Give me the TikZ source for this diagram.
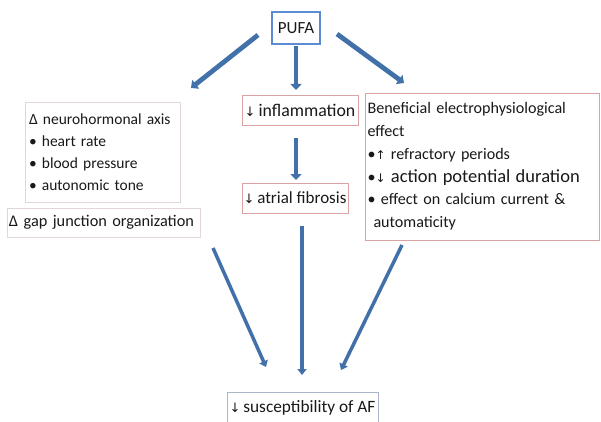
\documentclass[tikz,border=0pt]{standalone}
\usepackage{fontspec}
\setmainfont{Carlito}
\newfontfamily\arrfont{DejaVu Sans}
\usetikzlibrary{arrows.meta}
\definecolor{arrblue}{HTML}{4271AA}
\definecolor{pufablue}{HTML}{5B8BD0}
\definecolor{pinkline}{HTML}{D9A3A3}
\definecolor{greyline}{HTML}{E3D6D6}
\definecolor{bluegrey}{HTML}{A9B6C9}
\newcommand{\dn}{{\arrfont\fontsize{13}{13}\selectfont ↓}}
\newcommand{\up}{{\arrfont\fontsize{12}{12}\selectfont ↑}}
\tikzset{
  txt/.style={font=\fontsize{15.5}{22}\selectfont, text=black!90},
  box/.style={txt, draw=#1, line width=0.8pt, rectangle, inner sep=0pt, align=left},
  bigarrow/.style={draw=arrblue, line width=4.8pt, -{Triangle[length=6pt,width=11pt]}},
  midarrow/.style={draw=arrblue, line width=3.5pt, -{Triangle[length=6pt,width=9pt]}},
}
\begin{document}
\begin{tikzpicture}[x=1pt,y=-1pt]
\useasboundingbox[fill=white] (0,0) rectangle (601,422);
% boxes
\node[box=pufablue, line width=2pt, minimum width=48pt, minimum height=32pt, font=\fontsize{17}{17}\selectfont] (pufa) at (296,28) {PUFA};
\node[box=greyline, minimum width=155pt, minimum height=100pt, text width=147pt] (neuro) at (102.5,152)
  {Δ neurohormonal axis\\ • heart rate\\ • blood pressure\\ • autonomic tone};
\node[box=greyline, minimum width=193pt, minimum height=29pt, text width=189pt, font=\fontsize{16.3}{20}\selectfont] (gap) at (103.5,222.5)
  {Δ gap junction organization};
\node[box=pinkline, minimum width=116pt, minimum height=30pt, font=\fontsize{17.8}{20}\selectfont] (infl) at (300,110)
  {\dn\,inflammation};
\node[box=pinkline, minimum width=106pt, minimum height=30pt, font=\fontsize{17}{20}\selectfont] (fib) at (295,198)
  {\dn\,atrial fibrosis};
\node[box=pinkline, minimum width=234pt, minimum height=147pt, text width=229pt, font=\fontsize{16.1}{22.8}\selectfont] (elec) at (482,166.5)
  {Beneficial electrophysiological\\ effect\\ •\up\ refractory periods\\ •{\fontsize{12}{12}\selectfont\arrfont ↓} {\fontsize{18.5}{22.8}\selectfont action potential duration}\\ • effect on calcium current \&\\ \hspace*{6pt}automaticity};
\node[box=bluegrey, minimum width=151pt, minimum height=32pt, font=\fontsize{17.3}{20}\selectfont] (af) at (302.5,408)
  {\dn\,susceptibility of AF};
% coordinates for arrow ends
\coordinate (p1s) at (258,35);
\coordinate (p1e) at (191,88);
\coordinate (p2s) at (296,46);
\coordinate (p2e) at (296,90);
\coordinate (p3s) at (337,34);
\coordinate (p3e) at (404,83);
\coordinate (m1s) at (296,138);
\coordinate (m1e) at (296,180);
\coordinate (b1s) at (213,248);
\coordinate (b1e) at (266,367);
\coordinate (b2s) at (302,226);
\coordinate (b2e) at (302,375);
\coordinate (b3s) at (402,245);
\coordinate (b3e) at (341,370);
\draw[bigarrow] (p1s) -- (p1e);
\draw[bigarrow] (p2s) -- (p2e);
\draw[bigarrow] (p3s) -- (p3e);
\draw[bigarrow] (m1s) -- (m1e);
\draw[midarrow] (b1s) -- (b1e);
\draw[midarrow, line width=4pt] (b2s) -- (b2e);
\draw[midarrow] (b3s) -- (b3e);
\end{tikzpicture}
\end{document}
